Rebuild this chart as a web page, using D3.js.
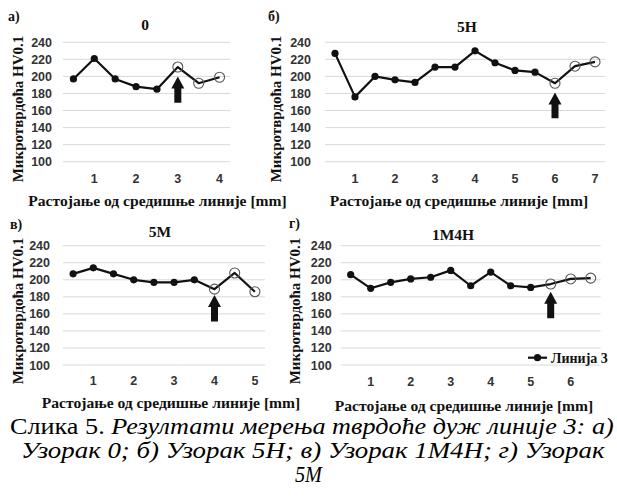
<!DOCTYPE html>
<html><head><meta charset="utf-8">
<script src="https://cdn.jsdelivr.net/npm/d3@7"></script>
<style>
html,body{margin:0;padding:0;background:#fff;overflow:hidden;}
svg{display:block;}
</style></head>
<body>
<svg id="c" width="617" height="497"></svg>
<script>
// ---------------- DATA ----------------
const panelLetters = ["а)", "б)", "в)", "г)"];
const panelTitles = ["0", "5H", "5M", "1M4H"];

const distA = [0.5, 1, 1.5, 2, 2.5, 3, 3.5, 4];
const valuesA = [197, 221, 197, 188, 185, 211, 192, 199];

const distB = [0.5, 1, 1.5, 2, 2.5, 3, 3.5, 4, 4.5, 5, 5.5, 6, 6.5, 7];
const valuesB = [227, 176, 200, 196, 193, 211, 211, 230, 216, 207, 205, 192, 212, 217];

const distC = [0.5, 1, 1.5, 2, 2.5, 3, 3.5, 4, 4.5, 5];
const valuesC = [207, 214, 207, 200, 197, 197, 200, 189, 208, 186];

const distD = [0.5, 1, 1.5, 2, 2.5, 3, 3.5, 4, 4.5, 5, 5.5, 6, 6.5];
const valuesD = [206, 190, 197, 201, 203, 211, 193, 209, 193, 191, 195, 201, 202];

const openFrom = [3, 6, 4, 5.5];       // markers drawn open from this distance on
const arrowAt = [3, 6, 4, 5.5];        // arrow position (mm)
const arrowTip = [200, 181, 182, 186]; // arrow tip (HV)
const arrowBase = [169, 151, 151, 155];

const yTicks = [100, 120, 140, 160, 180, 200, 220, 240];
const xTicksA = [1, 2, 3, 4];
const xTicksB = [1, 2, 3, 4, 5, 6, 7];
const xTicksC = [1, 2, 3, 4, 5];
const xTicksD = [1, 2, 3, 4, 5, 6];

const yTitle = "Микротврдоћа HV0.1";
const xTitle = "Растојање од средишње линије [mm]";
const legendLabel = "Линија 3";
const captionLines = [
  [{t: "Слика 5. ", i: false}, {t: "Резултати мерења тврдоће дуж линије 3: а)", i: true}],
  [{t: "Узорак 0; б) Узорак 5Н; в) Узорак 1М4Н; г) Узорак", i: true}],
  [{t: "5М", i: true}]
];

// ---------------- LAYOUT ----------------
const SERIF = "'Liberation Serif','Times New Roman',serif";
const SANS = "'Liberation Sans',Arial,sans-serif";

const panels = [
  {dist: distA, vals: valuesA, ticks: xTicksA, x0: 63, x1: 230, yTop: 42.3, yBot: 161.7,
   tickLblX: 52, yTitleX: 18, yTitleY: 109, xTickY: 183, xTitleX: 157.5, xTitleY: 205.5,
   titleX: 145, titleY: 30, letX: 8, letY: 21},
  {dist: distB, vals: valuesB, ticks: xTicksB, x0: 325, x1: 605, yTop: 42.3, yBot: 161.7,
   tickLblX: 311, yTitleX: 276, yTitleY: 109, xTickY: 183, xTitleX: 459, xTitleY: 205.5,
   titleX: 467, titleY: 32, letX: 268, letY: 21},
  {dist: distC, vals: valuesC, ticks: xTicksC, x0: 63, x1: 265, yTop: 245.7, yBot: 365,
   tickLblX: 50, yTitleX: 18, yTitleY: 311, xTickY: 385, xTitleX: 171, xTitleY: 408,
   titleX: 160, titleY: 237, letX: 10, letY: 229},
  {dist: distD, vals: valuesD, ticks: xTicksD, x0: 340.7, x1: 600.7, yTop: 245.7, yBot: 365,
   tickLblX: 331.7, yTitleX: 295, yTitleY: 311, xTickY: 386, xTitleX: 464, xTitleY: 411,
   titleX: 453, titleY: 240, letX: 289, letY: 228}
];

const svg = d3.select("#c");

panels.forEach((p, k) => {
  const g = svg.append("g");
  const x = d3.scaleLinear().domain([0.25, d3.max(p.dist) + 0.25]).range([p.x0, p.x1]);
  const y = d3.scaleLinear().domain([100, 240]).range([p.yBot, p.yTop]);

  g.selectAll("line.grid").data(yTicks).join("line")
    .attr("x1", p.x0).attr("x2", p.x1)
    .attr("y1", d => y(d)).attr("y2", d => y(d))
    .attr("stroke", "#d9d9d9").attr("stroke-width", 1);

  g.selectAll("text.yt").data(yTicks).join("text")
    .attr("x", p.tickLblX).attr("y", d => y(d)).attr("dy", "0.36em")
    .attr("text-anchor", "end")
    .style("font-family", SANS).style("font-weight", "bold").style("font-size", "12.5px")
    .attr("fill", "#333").text(d => d);

  g.selectAll("text.xt").data(p.ticks).join("text")
    .attr("x", d => x(d)).attr("y", p.xTickY)
    .attr("text-anchor", "middle")
    .style("font-family", SANS).style("font-weight", "bold").style("font-size", "12.5px")
    .attr("fill", "#333").text(d => d);

  g.append("text")
    .attr("transform", `translate(${p.yTitleX},${p.yTitleY}) rotate(-90)`)
    .attr("dy", "0.35em").attr("text-anchor", "middle")
    .style("font-family", SERIF).style("font-weight", "bold").style("font-size", "15px")
    .attr("fill", "#111").text(yTitle);

  g.append("text").attr("x", p.xTitleX).attr("y", p.xTitleY)
    .attr("text-anchor", "middle")
    .style("font-family", SERIF).style("font-weight", "bold").style("font-size", "15.6px")
    .attr("fill", "#111").text(xTitle);

  g.append("text").attr("x", p.titleX).attr("y", p.titleY)
    .attr("text-anchor", "middle")
    .style("font-family", SERIF).style("font-weight", "bold").style("font-size", "15.5px")
    .attr("fill", "#111").text(panelTitles[k]);

  g.append("text").attr("x", p.letX).attr("y", p.letY)
    .style("font-family", SERIF).style("font-weight", "bold").style("font-size", "14px")
    .attr("fill", "#111").text(panelLetters[k]);

  const pts = p.dist.map((d, i) => ({d, v: p.vals[i]}));

  g.append("path").datum(pts)
    .attr("d", d3.line().x(d => x(d.d)).y(d => y(d.v)))
    .attr("fill", "none").attr("stroke", "#111").attr("stroke-width", 2.2)
    .attr("stroke-linejoin", "round");

  g.selectAll("circle.f").data(pts.filter(d => d.d < openFrom[k])).join("circle")
    .attr("cx", d => x(d.d)).attr("cy", d => y(d.v)).attr("r", 3.6)
    .attr("fill", "#111");

  g.selectAll("circle.o").data(pts.filter(d => d.d >= openFrom[k])).join("circle")
    .attr("cx", d => x(d.d)).attr("cy", d => y(d.v)).attr("r", 5)
    .attr("fill", "none").attr("stroke", "#555").attr("stroke-width", 1.1);

  const ax = x(arrowAt[k]), at = y(arrowTip[k]), ab = y(arrowBase[k]);
  const hw = 6.5, sw = 3.5, hh = 12;
  g.append("path")
    .attr("d", `M${ax},${at} L${ax + hw},${at + hh} L${ax + sw},${at + hh} L${ax + sw},${ab} L${ax - sw},${ab} L${ax - sw},${at + hh} L${ax - hw},${at + hh} Z`)
    .attr("fill", "#111");

  if (k === 3) {
    const ly = 357.7;
    g.append("line").attr("x1", 528).attr("x2", 547).attr("y1", ly).attr("y2", ly)
      .attr("stroke", "#111").attr("stroke-width", 2.2);
    g.append("circle").attr("cx", 537.5).attr("cy", ly).attr("r", 3.6).attr("fill", "#111");
    g.append("text").attr("x", 551).attr("y", ly).attr("dy", "0.35em")
      .style("font-family", SERIF).style("font-weight", "bold").style("font-size", "14px")
      .attr("fill", "#111").text(legendLabel);
  }
});

// caption: each line stretched horizontally to the span it occupies in the figure
const capBase = [434, 458, 482];
const capStart = [10, 21, 295];
const capEnd = [614, 605, 322];
captionLines.forEach((line, i) => {
  const t = svg.append("text").attr("x", 0).attr("y", 0)
    .style("font-family", SERIF).style("font-size", "22.5px").attr("fill", "#000");
  t.selectAll("tspan").data(line).join("tspan")
    .style("font-style", d => d.i ? "italic" : "normal")
    .text(d => d.t);
  const w = t.node().getComputedTextLength();
  const s = (capEnd[i] - capStart[i]) / w;
  t.attr("transform", `translate(${capStart[i]},${capBase[i]}) scale(${s},1)`);
});
</script>
</body></html>
